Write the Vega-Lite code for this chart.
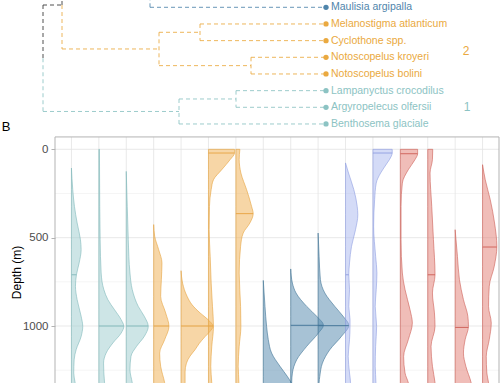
{
  "$schema": "https://vega.github.io/schema/vega-lite/v6.json",
  "width": 444,
  "height": 383,
  "padding": {"left": 55, "top": 0, "right": 1, "bottom": 0},
  "autosize": {"type": "none"},
  "config": {"view": {"stroke": null}, "font": "Liberation Sans"},
  "datasets": {
    "tree": [
      {"h1": 1.76, "h2": 0, "i1": 1, "i2": 1, "c": "blue"},
      {"h1": 1.76, "h2": 1.76, "i1": 1, "i2": -1, "c": "blue"},
      {"h1": 1.26, "h2": 0, "i1": 2, "i2": 2, "c": "orange"},
      {"h1": 1.26, "h2": 0, "i1": 3, "i2": 3, "c": "orange"},
      {"h1": 1.26, "h2": 1.26, "i1": 2, "i2": 3, "c": "orange"},
      {"h1": 0.75, "h2": 0, "i1": 4, "i2": 4, "c": "orange"},
      {"h1": 0.75, "h2": 0, "i1": 5, "i2": 5, "c": "orange"},
      {"h1": 0.75, "h2": 0.75, "i1": 4, "i2": 5, "c": "orange"},
      {"h1": 1.67, "h2": 1.26, "i1": 2.5, "i2": 2.5, "c": "orange"},
      {"h1": 1.67, "h2": 0.75, "i1": 4.5, "i2": 4.5, "c": "orange"},
      {"h1": 1.67, "h2": 1.67, "i1": 2.5, "i2": 4.5, "c": "orange"},
      {"h1": 2.64, "h2": 1.67, "i1": 3.5, "i2": 3.5, "c": "orange"},
      {"h1": 2.64, "h2": 2.64, "i1": 0.862, "i2": 3.5, "c": "orange"},
      {"h1": 2.64, "h2": 2.64, "i1": 0.862, "i2": -1.776, "c": "black"},
      {"h1": 2.83, "h2": 2.64, "i1": 0.862, "i2": 0.862, "c": "black"},
      {"h1": 2.83, "h2": 2.83, "i1": 0.862, "i2": 4.056, "c": "black"},
      {"h1": 2.83, "h2": 2.83, "i1": 4.056, "i2": 7.25, "c": "teal"},
      {"h1": 2.83, "h2": 1.47, "i1": 7.25, "i2": 7.25, "c": "teal"},
      {"h1": 1.47, "h2": 1.47, "i1": 6.5, "i2": 8, "c": "teal"},
      {"h1": 1.47, "h2": 0, "i1": 8, "i2": 8, "c": "teal"},
      {"h1": 1.47, "h2": 0.9, "i1": 6.5, "i2": 6.5, "c": "teal"},
      {"h1": 0.9, "h2": 0.9, "i1": 6, "i2": 7, "c": "teal"},
      {"h1": 0.9, "h2": 0, "i1": 6, "i2": 6, "c": "teal"},
      {"h1": 0.9, "h2": 0, "i1": 7, "i2": 7, "c": "teal"}
    ],
    "leaves": [
      {"name": "Maulisia argipalla", "i": 1, "c": "blue"},
      {"name": "Melanostigma atlanticum", "i": 2, "c": "orange"},
      {"name": "Cyclothone spp.", "i": 3, "c": "orange"},
      {"name": "Notoscopelus kroyeri", "i": 4, "c": "orange"},
      {"name": "Notoscopelus bolini", "i": 5, "c": "orange"},
      {"name": "Lampanyctus crocodilus", "i": 6, "c": "teal"},
      {"name": "Argyropelecus olfersii", "i": 7, "c": "teal"},
      {"name": "Benthosema glaciale", "i": 8, "c": "teal"}
    ],
    "clusters": [
      {"label": "2", "h": -1.4, "i": 3.62, "c": "orange"},
      {"label": "1", "h": -1.41, "i": 7.01, "c": "teal"}
    ],
    "violins": [
      {"v":1,"g":"1","d":106,"w":0},{"v":1,"g":"1","d":228,"w":1.3},{"v":1,"g":"1","d":323,"w":3},{"v":1,"g":"1","d":417,"w":5.7},{"v":1,"g":"1","d":511,"w":9},{"v":1,"g":"1","d":568,"w":9.7},{"v":1,"g":"1","d":643,"w":7.7},{"v":1,"g":"1","d":710,"w":5},{"v":1,"g":"1","d":775,"w":4},{"v":1,"g":"1","d":851,"w":5.7},{"v":1,"g":"1","d":945,"w":9.7},{"v":1,"g":"1","d":1002,"w":11.3},{"v":1,"g":"1","d":1059,"w":9.7},{"v":1,"g":"1","d":1134,"w":4.7},{"v":1,"g":"1","d":1191,"w":2.7},{"v":1,"g":"1","d":1266,"w":2.3},{"v":1,"g":"1","d":1321,"w":3.7},{"v":1,"g":"1","d":1400,"w":5},
      {"v":2,"g":"1","d":0,"w":0.6},{"v":2,"g":"1","d":134,"w":0.7},{"v":2,"g":"1","d":511,"w":1.3},{"v":2,"g":"1","d":700,"w":2.3},{"v":2,"g":"1","d":794,"w":5},{"v":2,"g":"1","d":851,"w":9},{"v":2,"g":"1","d":908,"w":15.7},{"v":2,"g":"1","d":964,"w":22.3},{"v":2,"g":"1","d":1002,"w":25},{"v":2,"g":"1","d":1040,"w":22.3},{"v":2,"g":"1","d":1096,"w":14},{"v":2,"g":"1","d":1153,"w":7.3},{"v":2,"g":"1","d":1210,"w":4.7},{"v":2,"g":"1","d":1266,"w":5},{"v":2,"g":"1","d":1321,"w":5.7},{"v":2,"g":"1","d":1400,"w":6},
      {"v":3,"g":"1","d":125,"w":0},{"v":3,"g":"1","d":323,"w":1},{"v":3,"g":"1","d":511,"w":2},{"v":3,"g":"1","d":700,"w":3.7},{"v":3,"g":"1","d":794,"w":6},{"v":3,"g":"1","d":889,"w":12},{"v":3,"g":"1","d":945,"w":18},{"v":3,"g":"1","d":1002,"w":22},{"v":3,"g":"1","d":1059,"w":18},{"v":3,"g":"1","d":1115,"w":10.3},{"v":3,"g":"1","d":1172,"w":4.7},{"v":3,"g":"1","d":1247,"w":3.7},{"v":3,"g":"1","d":1321,"w":6},{"v":3,"g":"1","d":1400,"w":8},
      {"v":4,"g":"2","d":426,"w":0},{"v":4,"g":"2","d":492,"w":1},{"v":4,"g":"2","d":568,"w":5},{"v":4,"g":"2","d":643,"w":8.3},{"v":4,"g":"2","d":738,"w":7.7},{"v":4,"g":"2","d":832,"w":7},{"v":4,"g":"2","d":926,"w":12},{"v":4,"g":"2","d":1002,"w":15.3},{"v":4,"g":"2","d":1077,"w":11},{"v":4,"g":"2","d":1153,"w":6},{"v":4,"g":"2","d":1228,"w":7},{"v":4,"g":"2","d":1321,"w":11},{"v":4,"g":"2","d":1400,"w":13},
      {"v":5,"g":"2","d":687,"w":0},{"v":5,"g":"2","d":757,"w":1.5},{"v":5,"g":"2","d":832,"w":6},{"v":5,"g":"2","d":880,"w":11},{"v":5,"g":"2","d":926,"w":19},{"v":5,"g":"2","d":964,"w":27},{"v":5,"g":"2","d":1002,"w":32},{"v":5,"g":"2","d":1030,"w":29},{"v":5,"g":"2","d":1060,"w":24},{"v":5,"g":"2","d":1100,"w":18},{"v":5,"g":"2","d":1134,"w":14},{"v":5,"g":"2","d":1170,"w":9},{"v":5,"g":"2","d":1210,"w":5.4},{"v":5,"g":"2","d":1260,"w":4},{"v":5,"g":"2","d":1321,"w":4},{"v":5,"g":"2","d":1400,"w":4},
      {"v":6,"g":"2","d":0,"w":26},{"v":6,"g":"2","d":21,"w":26},{"v":6,"g":"2","d":58,"w":21.7},{"v":6,"g":"2","d":115,"w":13.3},{"v":6,"g":"2","d":172,"w":5},{"v":6,"g":"2","d":228,"w":2.7},{"v":6,"g":"2","d":323,"w":1},{"v":6,"g":"2","d":455,"w":0.7},{"v":6,"g":"2","d":606,"w":1.7},{"v":6,"g":"2","d":757,"w":2.7},{"v":6,"g":"2","d":889,"w":4},{"v":6,"g":"2","d":1002,"w":5},{"v":6,"g":"2","d":1115,"w":3.3},{"v":6,"g":"2","d":1228,"w":2.3},{"v":6,"g":"2","d":1321,"w":3.3},{"v":6,"g":"2","d":1400,"w":4},
      {"v":7,"g":"2","d":0,"w":4},{"v":7,"g":"2","d":58,"w":3.3},{"v":7,"g":"2","d":134,"w":5},{"v":7,"g":"2","d":228,"w":10.7},{"v":7,"g":"2","d":323,"w":15.7},{"v":7,"g":"2","d":364,"w":17.3},{"v":7,"g":"2","d":417,"w":14},{"v":7,"g":"2","d":474,"w":7.3},{"v":7,"g":"2","d":549,"w":4.7},{"v":7,"g":"2","d":700,"w":3.3},{"v":7,"g":"2","d":889,"w":4.7},{"v":7,"g":"2","d":1002,"w":5},{"v":7,"g":"2","d":1115,"w":3.3},{"v":7,"g":"2","d":1228,"w":2.3},{"v":7,"g":"2","d":1321,"w":3},{"v":7,"g":"2","d":1400,"w":3},
      {"v":8,"g":"3","d":742,"w":0},{"v":8,"g":"3","d":889,"w":1.7},{"v":8,"g":"3","d":1002,"w":3.3},{"v":8,"g":"3","d":1077,"w":5},{"v":8,"g":"3","d":1153,"w":8.3},{"v":8,"g":"3","d":1228,"w":16.7},{"v":8,"g":"3","d":1285,"w":24},{"v":8,"g":"3","d":1321,"w":28},{"v":8,"g":"3","d":1400,"w":32},
      {"v":9,"g":"3","d":677,"w":0},{"v":9,"g":"3","d":757,"w":1.7},{"v":9,"g":"3","d":813,"w":5.3},{"v":9,"g":"3","d":889,"w":16},{"v":9,"g":"3","d":945,"w":26},{"v":9,"g":"3","d":996,"w":32.7},{"v":9,"g":"3","d":1040,"w":27.7},{"v":9,"g":"3","d":1115,"w":16},{"v":9,"g":"3","d":1191,"w":6},{"v":9,"g":"3","d":1266,"w":1.7},{"v":9,"g":"3","d":1321,"w":1},{"v":9,"g":"3","d":1400,"w":1},
      {"v":10,"g":"3","d":474,"w":0},{"v":10,"g":"3","d":606,"w":1},{"v":10,"g":"3","d":738,"w":2.3},{"v":10,"g":"3","d":813,"w":6.7},{"v":10,"g":"3","d":889,"w":16.7},{"v":10,"g":"3","d":945,"w":25},{"v":10,"g":"3","d":996,"w":30.7},{"v":10,"g":"3","d":1059,"w":23.3},{"v":10,"g":"3","d":1134,"w":11.7},{"v":10,"g":"3","d":1210,"w":4.3},{"v":10,"g":"3","d":1285,"w":1.7},{"v":10,"g":"3","d":1321,"w":1},{"v":10,"g":"3","d":1400,"w":1},
      {"v":11,"g":"4","d":77,"w":0},{"v":11,"g":"4","d":134,"w":3},{"v":11,"g":"4","d":228,"w":8.3},{"v":11,"g":"4","d":323,"w":11.7},{"v":11,"g":"4","d":370,"w":12.3},{"v":11,"g":"4","d":455,"w":10},{"v":11,"g":"4","d":549,"w":6},{"v":11,"g":"4","d":643,"w":4},{"v":11,"g":"4","d":710,"w":3.3},{"v":11,"g":"4","d":794,"w":4},{"v":11,"g":"4","d":889,"w":3.3},{"v":11,"g":"4","d":964,"w":4.5},{"v":11,"g":"4","d":1002,"w":4.5},{"v":11,"g":"4","d":1077,"w":4},{"v":11,"g":"4","d":1172,"w":2.7},{"v":11,"g":"4","d":1266,"w":4},{"v":11,"g":"4","d":1321,"w":5},{"v":11,"g":"4","d":1400,"w":5},
      {"v":12,"g":"4","d":0,"w":19.3},{"v":12,"g":"4","d":21,"w":19.3},{"v":12,"g":"4","d":40,"w":18.3},{"v":12,"g":"4","d":77,"w":14.3},{"v":12,"g":"4","d":134,"w":7.7},{"v":12,"g":"4","d":191,"w":3.3},{"v":12,"g":"4","d":285,"w":1.7},{"v":12,"g":"4","d":436,"w":0.7},{"v":12,"g":"4","d":606,"w":2.7},{"v":12,"g":"4","d":700,"w":4},{"v":12,"g":"4","d":794,"w":3.3},{"v":12,"g":"4","d":889,"w":2.3},{"v":12,"g":"4","d":1002,"w":3.7},{"v":12,"g":"4","d":1115,"w":2.7},{"v":12,"g":"4","d":1228,"w":2.3},{"v":12,"g":"4","d":1321,"w":3},{"v":12,"g":"4","d":1400,"w":3},
      {"v":13,"g":"5","d":0,"w":17.3},{"v":13,"g":"5","d":25,"w":17.3},{"v":13,"g":"5","d":58,"w":14.7},{"v":13,"g":"5","d":115,"w":8},{"v":13,"g":"5","d":191,"w":2},{"v":13,"g":"5","d":323,"w":0.7},{"v":13,"g":"5","d":511,"w":0.7},{"v":13,"g":"5","d":700,"w":2},{"v":13,"g":"5","d":794,"w":4.7},{"v":13,"g":"5","d":908,"w":9.7},{"v":13,"g":"5","d":983,"w":12},{"v":13,"g":"5","d":1077,"w":8},{"v":13,"g":"5","d":1172,"w":3.3},{"v":13,"g":"5","d":1266,"w":4.7},{"v":13,"g":"5","d":1321,"w":8},{"v":13,"g":"5","d":1400,"w":10},
      {"v":14,"g":"5","d":0,"w":5},{"v":14,"g":"5","d":58,"w":4.7},{"v":14,"g":"5","d":134,"w":2.3},{"v":14,"g":"5","d":323,"w":4},{"v":14,"g":"5","d":511,"w":5.7},{"v":14,"g":"5","d":710,"w":7.3},{"v":14,"g":"5","d":813,"w":4.7},{"v":14,"g":"5","d":926,"w":6.7},{"v":14,"g":"5","d":1002,"w":7.3},{"v":14,"g":"5","d":1115,"w":3.3},{"v":14,"g":"5","d":1228,"w":4.7},{"v":14,"g":"5","d":1321,"w":7.3},{"v":14,"g":"5","d":1400,"w":8},
      {"v":15,"g":"5","d":455,"w":0},{"v":15,"g":"5","d":606,"w":2.3},{"v":15,"g":"5","d":738,"w":4.3},{"v":15,"g":"5","d":851,"w":8.3},{"v":15,"g":"5","d":945,"w":12.7},{"v":15,"g":"5","d":1002,"w":13.3},{"v":15,"g":"5","d":1077,"w":10},{"v":15,"g":"5","d":1153,"w":8.3},{"v":15,"g":"5","d":1228,"w":10.7},{"v":15,"g":"5","d":1321,"w":16},{"v":15,"g":"5","d":1400,"w":18},
      {"v":16,"g":"5","d":87,"w":0},{"v":16,"g":"5","d":172,"w":2.7},{"v":16,"g":"5","d":285,"w":7.7},{"v":16,"g":"5","d":417,"w":12},{"v":16,"g":"5","d":549,"w":14.3},{"v":16,"g":"5","d":662,"w":11.7},{"v":16,"g":"5","d":775,"w":6.7},{"v":16,"g":"5","d":889,"w":6},{"v":16,"g":"5","d":983,"w":8.7},{"v":16,"g":"5","d":1077,"w":6.7},{"v":16,"g":"5","d":1172,"w":3.7},{"v":16,"g":"5","d":1266,"w":4.3},{"v":16,"g":"5","d":1321,"w":6},{"v":16,"g":"5","d":1400,"w":7}
    ],
    "medians": [
      {"v":1,"g":"1","d":710,"w":5},{"v":2,"g":"1","d":1000,"w":25},{"v":3,"g":"1","d":1000,"w":22},
      {"v":4,"g":"2","d":1000,"w":15.3},{"v":5,"g":"2","d":1000,"w":32},{"v":6,"g":"2","d":21,"w":26},{"v":7,"g":"2","d":364,"w":17.3},
      {"v":9,"g":"3","d":996,"w":32.7},{"v":10,"g":"3","d":998,"w":30.7},
      {"v":11,"g":"4","d":710,"w":3.3},{"v":12,"g":"4","d":21,"w":19.3},
      {"v":13,"g":"5","d":25,"w":17.3},{"v":14,"g":"5","d":710,"w":7.3},{"v":15,"g":"5","d":1008,"w":13.3},{"v":16,"g":"5","d":553,"w":14.3}
    ],
    "cats": [{"v":1},{"v":2},{"v":3},{"v":4},{"v":5},{"v":6},{"v":7},{"v":8},{"v":9},{"v":10},{"v":11},{"v":12},{"v":13},{"v":14},{"v":15},{"v":16}]
  },
  "layer": [
    {
      "layer": [
        {
          "data": {"name": "tree"},
          "mark": {"type": "rule", "strokeDash": [4, 3], "strokeWidth": 1, "opacity": 0.85},
          "encoding": {
            "x": {"field": "h1", "type": "quantitative", "scale": {"domain": [-1.73, 2.71], "reverse": true, "nice": false, "zero": false}, "axis": null},
            "x2": {"field": "h2"},
            "y": {"field": "i1", "type": "quantitative", "scale": {"domain": [0.562, 23.54], "reverse": true, "nice": false, "zero": false}, "axis": null},
            "y2": {"field": "i2"},
            "color": {"field": "c", "type": "nominal", "scale": {"domain": ["blue", "orange", "teal", "black"], "range": ["#4f85ab", "#eaa940", "#8cc3c3", "#333333"]}, "legend": null}
          }
        },
        {
          "data": {"name": "leaves"},
          "mark": {"type": "point", "filled": true, "size": 28, "opacity": 1},
          "encoding": {
            "x": {"datum": 0, "type": "quantitative"},
            "y": {"field": "i", "type": "quantitative"},
            "color": {"field": "c", "type": "nominal", "legend": null}
          }
        },
        {
          "data": {"name": "leaves"},
          "mark": {"type": "text", "align": "left", "baseline": "middle", "dx": 5, "fontSize": 10.5},
          "encoding": {
            "x": {"datum": 0, "type": "quantitative"},
            "y": {"field": "i", "type": "quantitative"},
            "text": {"field": "name"},
            "color": {"field": "c", "type": "nominal", "legend": null}
          }
        },
        {
          "data": {"name": "clusters"},
          "mark": {"type": "text", "align": "center", "baseline": "middle", "fontSize": 12},
          "encoding": {
            "x": {"field": "h", "type": "quantitative"},
            "y": {"field": "i", "type": "quantitative"},
            "text": {"field": "label"},
            "color": {"field": "c", "type": "nominal", "legend": null}
          }
        },
        {
          "data": {"values": [{"label": "B", "h": 3.243, "i": 8.4}]},
          "mark": {"type": "text", "align": "left", "baseline": "alphabetic", "fontSize": 13, "color": "#000000"},
          "encoding": {
            "x": {"field": "h", "type": "quantitative"},
            "y": {"field": "i", "type": "quantitative"},
            "text": {"field": "label"}
          }
        }
      ]
    },
    {
      "layer": [
        {
          "data": {"values": [{"d": 250}, {"d": 750}, {"d": 1250}]},
          "mark": {"type": "rule", "stroke": "#efefef", "strokeWidth": 0.6},
          "encoding": {
            "y": {"field": "d", "type": "quantitative", "scale": {"domain": [-845, 1322.5], "reverse": true, "nice": false, "zero": false},
                  "axis": {"orient": "left", "values": [0, 500, 1000], "format": "d", "grid": false, "domain": false, "tickColor": "#b3b3b3", "tickSize": 4, "labelPadding": 3, "labelColor": "#4d4d4d", "labelFontSize": 11.5, "labelFont": "Liberation Sans", "title": "Depth (m)", "titleFont": "Liberation Sans", "titleFontSize": 12, "titleFontWeight": "normal", "titleColor": "#000000", "titleX": -32, "titleY": 272}},
            "x": {"datum": 0.4, "type": "quantitative", "scale": {"domain": [0.4, 16.6], "nice": false, "zero": false}, "axis": null},
            "x2": {"datum": 16.6}
          }
        },
        {
          "data": {"values": [{"d": 0}, {"d": 500}, {"d": 1000}]},
          "mark": {"type": "rule", "stroke": "#e3e3e3", "strokeWidth": 0.8},
          "encoding": {
            "y": {"field": "d", "type": "quantitative"},
            "x": {"datum": 0.4, "type": "quantitative"},
            "x2": {"datum": 16.6}
          }
        },
        {
          "data": {"name": "cats"},
          "mark": {"type": "rule", "stroke": "#e3e3e3", "strokeWidth": 0.8},
          "encoding": {
            "x": {"field": "v", "type": "quantitative"},
            "y": {"datum": -70, "type": "quantitative"},
            "y2": {"datum": 1400}
          }
        },
        {
          "data": {"name": "violins"},
          "transform": [{"calculate": "datum.v + datum.w / 27.41", "as": "xr"}],
          "mark": {"type": "area", "orient": "horizontal", "interpolate": "monotone", "fillOpacity": 0.5, "strokeWidth": 0.6},
          "encoding": {
            "y": {"field": "d", "type": "quantitative"},
            "x": {"field": "xr", "type": "quantitative", "stack": null},
            "x2": {"field": "v"},
            "detail": {"field": "v"},
            "fill": {"field": "g", "type": "nominal", "scale": {"domain": ["1", "2", "3", "4", "5"], "range": ["#9ccccd", "#f0ad4e", "#4f85ab", "#aab7ef", "#e17b72"]}, "legend": null},
            "stroke": {"field": "g", "type": "nominal", "scale": {"domain": ["1", "2", "3", "4", "5"], "range": ["#80b8ba", "#e6a33e", "#3f7396", "#8e9de0", "#cd5e55"]}, "legend": null}
          }
        },
        {
          "data": {"name": "medians"},
          "transform": [{"calculate": "datum.v + datum.w / 27.41", "as": "xm"}],
          "mark": {"type": "rule", "strokeWidth": 0.9},
          "encoding": {
            "y": {"field": "d", "type": "quantitative"},
            "x": {"field": "v", "type": "quantitative"},
            "x2": {"field": "xm"},
            "stroke": {"field": "g", "type": "nominal", "legend": null}
          }
        },
        {
          "data": {"values": [{}]},
          "mark": {"type": "rect", "filled": false, "color": "#b3b3b3", "stroke": "#b3b3b3", "strokeWidth": 1},
          "encoding": {
            "x": {"datum": 0.4, "type": "quantitative"},
            "x2": {"datum": 16.6},
            "y": {"datum": -70, "type": "quantitative"},
            "y2": {"datum": 1400}
          }
        }
      ]
    }
  ],
  "resolve": {"scale": {"x": "independent", "y": "independent", "color": "independent"}}
}
